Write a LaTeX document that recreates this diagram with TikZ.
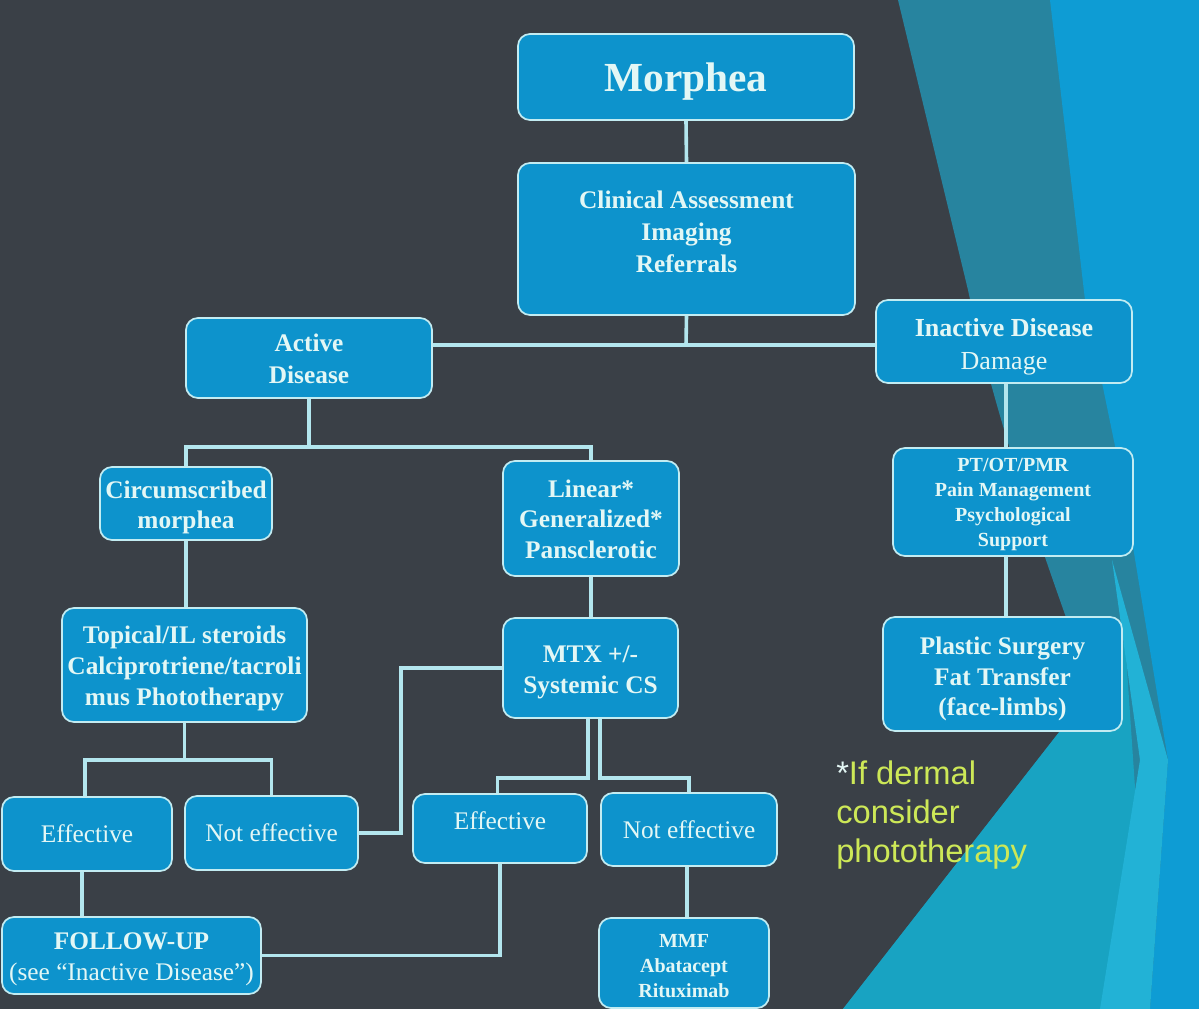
\documentclass[tikz,border=0pt]{standalone}
\usepackage{fontspec}
\setmainfont{Liberation Serif}
\newfontfamily\arialf{Liberation Sans}
\definecolor{bgdark}{HTML}{3A4047}
\definecolor{tealA}{HTML}{27849F}
\definecolor{cyanB}{HTML}{18A3C2}
\definecolor{blueC}{HTML}{0E9CD4}
\definecolor{cyanD}{HTML}{22B2D6}
\definecolor{boxc}{HTML}{0D93CC}
\definecolor{bordc}{HTML}{C2ECF2}
\definecolor{linec}{HTML}{B3E6EE}
\definecolor{txtc}{HTML}{E3F7F5}
\definecolor{yell}{HTML}{CDE857}
\tikzset{
  bx/.style={draw=bordc, line width=1.3pt, fill=boxc, rounded corners=9pt, inner sep=0pt},
  txtnode/.style={text=txtc, align=center, inner sep=0pt},
  fb/.style={font=\fontsize{19}{23}\selectfont\bfseries},
  fr/.style={font=\fontsize{19}{23}\selectfont},
  fsb/.style={font=\fontsize{15}{18.75}\selectfont\bfseries},
  conn/.style={draw=linec, line width=2.7pt}
}
% #1 name, #2 cx, #3 cy, #4 w, #5 h (pixels), #6 text style, #7 text centre y, #8 text
\newcommand\flowbox[8]{%
  \node[bx, minimum width=#4*0.75pt, minimum height=#5*0.75pt] (#1) at (#2,#3) {};
  \node[txtnode, #6] (#1-t) at (#2,#7) {#8};}
\begin{document}
\begin{tikzpicture}[x=0.75pt,y=-0.75pt]
\useasboundingbox (0,0) rectangle (1199,1009);
% background
\fill[bgdark] (0,0) rectangle (1199,1009);
\fill[tealA] (898,0) -- (1199,0) -- (1199,1009) -- (843,1009) -- (1092,690)
  .. controls (1060,600) and (1000,440) .. (968,290) -- cycle;
\fill[cyanB] (843,1009) -- (1092,690) -- (1125,640) -- (1150,1009) -- cycle;
\fill[blueC] (1050,0) -- (1199,0) -- (1199,1009) -- (1150,1009) -- (1168,760) -- (1122,480) -- (1085,300) -- cycle;
\fill[cyanD] (1112,560) -- (1168,760) -- (1150,1009) -- (1100,1009) -- (1140,760) -- cycle;
% boxes
\flowbox{morphea}{686}{77}{336}{86}{font=\fontsize{31}{36}\selectfont\bfseries}{82}{Morphea}
\flowbox{clin}{686.5}{239}{337}{152}{font=\fontsize{19}{24}\selectfont\bfseries}{232}{Clinical Assessment\\Imaging\\Referrals}
\flowbox{active}{309}{358}{246}{80}{font=\fontsize{19}{24}\selectfont\bfseries}{359}{Active\\Disease}
\flowbox{inactive}{1004}{341.5}{256}{83}{font=\fontsize{19.5}{24.5}\selectfont\bfseries}{346.5}{Inactive Disease\\{\mdseries Damage}}
\flowbox{circ}{186}{503.5}{172}{73}{fb}{507.5}{Circumscribed\\morphea}
\flowbox{linear}{591}{518.5}{176}{115}{fb}{519}{Linear*\\Generalized*\\Pansclerotic}
\flowbox{ptot}{1013}{502}{240}{108}{fsb}{505}{PT/OT/PMR\\Pain Management\\Psychological\\Support}
\flowbox{topical}{184.5}{665}{245}{114}{fb}{668.5}{Topical/IL steroids\\Calciprotriene/tacroli\\mus Phototherapy}
\flowbox{mtx}{590.5}{668}{175}{100}{fb}{672.5}{MTX +/-\\Systemic CS}
\flowbox{plastic}{1002.5}{674}{239}{114}{fb}{679}{Plastic Surgery\\Fat Transfer\\(face-limbs)}
\flowbox{effL}{87}{834}{170}{74}{fr}{834}{Effective}
\flowbox{neffL}{271.5}{833}{173}{74}{fr}{833}{Not effective}
\flowbox{effM}{500}{828.5}{174}{69}{fr}{821}{Effective}
\flowbox{neffM}{689}{829.5}{176}{73}{fr}{830}{Not effective}
\flowbox{follow}{131.5}{955.5}{259}{77}{fb}{959}{FOLLOW-UP\\{\mdseries (see “Inactive Disease”)}}
\flowbox{mmf}{684}{963}{170}{90}{fsb}{966}{MMF\\Abatacept\\Rituximab}
% footnote
\node[anchor=north west, inner sep=0pt, align=left, text=yell, font=\arialf\fontsize{24.5}{29}\selectfont] (note) at (836,761) {{\color{txtc}*}If dermal\\consider\\phototherapy};
% connectors
\coordinate (j1) at (686,345);
\coordinate (j2) at (309,447);
\coordinate (j3) at (184.5,760);
\draw[conn] (morphea.south) -- (clin.north);
\draw[conn] (clin.south) -- (j1);
\draw[conn] (active.east |- j1) -- (inactive.west |- j1);
\draw[conn] (active.south) -- (j2);
\draw[conn] (circ.north) -- (circ.north |- j2) -- (linear.north |- j2) -- (linear.north);
\draw[conn] ([xshift=1.5pt]inactive.south) -- ([xshift=1.5pt]inactive.south |- ptot.north);
\draw[conn] ([xshift=1.5pt]inactive.south |- ptot.south) -- ([xshift=1.5pt]inactive.south |- plastic.north);
\draw[conn] (circ.south) -- (circ.south |- topical.north);
\draw[conn] (linear.south) -- (linear.south |- mtx.north);
\draw[conn] (topical.south) -- (j3);
\draw[conn] ([xshift=-1.5pt]effL.north) -- ([xshift=-1.5pt]effL.north |- j3) -- (neffL.north |- j3) -- (neffL.north);
\draw[conn] (neffL.east) -- ++(42,0) |- (mtx.west);
\draw[conn] ([xshift=-2pt]mtx.south) -- ++(0,59) -| ([xshift=-2pt]effM.north);
\draw[conn] ([xshift=7pt]mtx.south) -- ++(0,59) -| (neffM.north);
\draw[conn] (effM.south) |- (follow.east);
\draw[conn] ([xshift=-1.5pt]neffM.south) -- ([xshift=-1.5pt]neffM.south |- mmf.north);
\draw[conn] ([xshift=-3.75pt]effL.south) -- ([xshift=-3.75pt]effL.south |- follow.north);
\end{tikzpicture}
\end{document}
